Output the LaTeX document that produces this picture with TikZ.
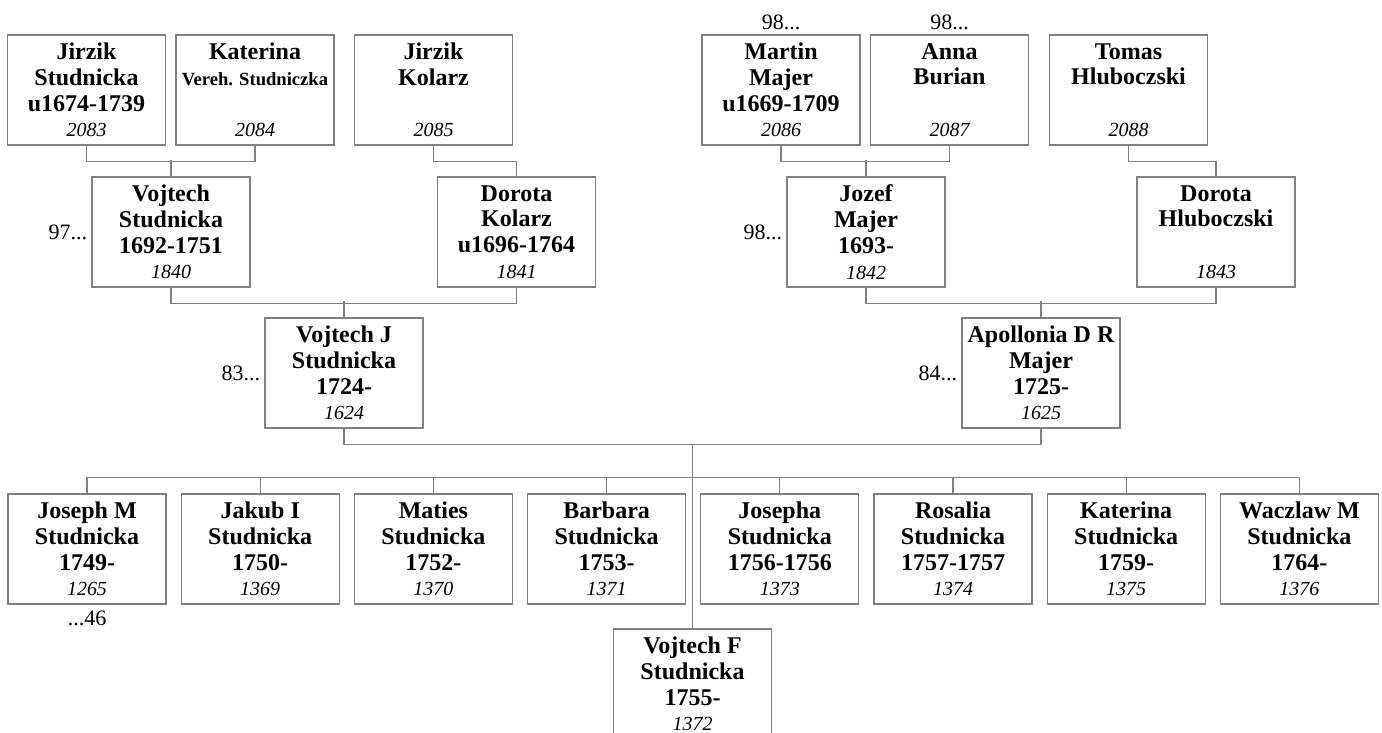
\documentclass[tikz,border=0pt]{standalone}
\usepackage{fontspec}
\setmainfont{Liberation Serif}
\usepackage{xcolor}
\usetikzlibrary{positioning}
\definecolor{boxgray}{RGB}{128,128,128}
\newcommand{\recno}[1]{{\normalfont\itshape\fontsize{10}{12.9}\selectfont #1}}

\begin{document}
\begin{tikzpicture}[
      x=0.5pt, y=-0.5pt,
      person/.style={draw=boxgray, line width=0.6pt, rectangle, minimum height=55pt,
                     minimum width=79pt, inner xsep=1pt, align=center,
                     font=\bfseries\fontsize{12}{12.9}\selectfont},
      link/.style={draw=boxgray, line width=0.6pt},
      xref/.style={inner sep=1pt, font=\fontsize{11}{13}\selectfont},
    ]
    \useasboundingbox (0,0) rectangle (1382,733);
    % great-grandparents
    \node[person] (jirzikS) at (86.5,90) {Jirzik\\Studnicka\\u1674-1739\\\recno{2083}};
    \node[person] (katerinaV) at (255,90) {Katerina\\{\fontsize{9.3}{12.9}\selectfont Vereh. Studniczka}\\~\\\recno{2084}};
    \node[person] (jirzikK) at (433.5,90) {Jirzik\\Kolarz\\~\\\recno{2085}};
    \node[person] (martinM) at (781,90) {Martin\\Majer\\u1669-1709\\\recno{2086}};
    \node[person] (annaB) at (949.5,90) {Anna\\Burian\\~\\\recno{2087}};
    \node[person] (tomasH) at (1128.5,90) {Tomas\\Hluboczski\\~\\\recno{2088}};
    \node[xref, above=1pt of martinM] {98...};
    \node[xref, above=1pt of annaB] {98...};
    % grandparents
    \node[person] (vojtechS) at (171,232) {Vojtech\\Studnicka\\1692-1751\\\recno{1840}};
    \node[person] (dorotaK) at (516.5,232) {Dorota\\Kolarz\\u1696-1764\\\recno{1841}};
    \node[person] (jozefM) at (866,232) {Jozef\\Majer\\1693-\\\recno{1842}};
    \node[person] (dorotaH) at (1216,232) {Dorota\\Hluboczski\\~\\\recno{1843}};
    \node[xref, left=1pt of vojtechS] {97...};
    \node[xref, left=1pt of jozefM] {98...};
    % parents
    \node[person] (vojtechJ) at (344,373) {Vojtech J\\Studnicka\\1724-\\\recno{1624}};
    \node[person] (apollonia) at (1041,373) {Apollonia D R\\Majer\\1725-\\\recno{1625}};
    \node[xref, left=1pt of vojtechJ] {83...};
    \node[xref, left=1pt of apollonia] {84...};
    % children
    \node[person] (josephM) at (87,549) {Joseph M\\Studnicka\\1749-\\\recno{1265}};
    \node[person, right=7pt of josephM] (jakubI) {Jakub I\\Studnicka\\1750-\\\recno{1369}};
    \node[person, right=7pt of jakubI] (maties) {Maties\\Studnicka\\1752-\\\recno{1370}};
    \node[person, right=7pt of maties] (barbara) {Barbara\\Studnicka\\1753-\\\recno{1371}};
    \node[person, right=7pt of barbara] (josepha) {Josepha\\Studnicka\\1756-1756\\\recno{1373}};
    \node[person, right=7pt of josepha] (rosalia) {Rosalia\\Studnicka\\1757-1757\\\recno{1374}};
    \node[person, right=7pt of rosalia] (katerinaS) {Katerina\\Studnicka\\1759-\\\recno{1375}};
    \node[person, right=7pt of katerinaS] (waczlaw) {Waczlaw M\\Studnicka\\1764-\\\recno{1376}};
    \node[person] (vojtechF) at (692.5,684) {Vojtech F\\Studnicka\\1755-\\\recno{1372}};
    \node[xref, below=2pt of josephM] {...46};
    % couples
    \draw[link] (jirzikS.south) -- ++(0,16) -| (katerinaV.south);
    \draw[link] (jirzikK.south) -- ++(0,16) -| (dorotaK.north);
    \draw[link] (martinM.south) -- ++(0,16) -| (annaB.south);
    \draw[link] (tomasH.south) -- ++(0,16) -| (dorotaH.north);
    \draw[link] (vojtechS.north) -- ++(0,-16);
    \draw[link] (jozefM.north) -- ++(0,-16);
    \draw[link] (vojtechS.south) -- ++(0,16) -| (dorotaK.south);
    \draw[link] (jozefM.south) -- ++(0,16) -| (dorotaH.south);
    \draw[link] (vojtechJ.north) -- ++(0,-16);
    \draw[link] (apollonia.north) -- ++(0,-16);
    \draw[link] (vojtechJ.south) -- ++(0,16) coordinate (famline) -| (apollonia.south);
    \draw[link] (vojtechF.north) -- (vojtechF.north |- famline);
    \draw[link] (josephM.north) -- ++(0,-16) -| (waczlaw.north);
    \draw[link] (jakubI.north) -- ++(0,-16);
    \draw[link] (maties.north) -- ++(0,-16);
    \draw[link] (barbara.north) -- ++(0,-16);
    \draw[link] (josepha.north) -- ++(0,-16);
    \draw[link] (rosalia.north) -- ++(0,-16);
    \draw[link] (katerinaS.north) -- ++(0,-16);
  \end{tikzpicture}
\end{document}
